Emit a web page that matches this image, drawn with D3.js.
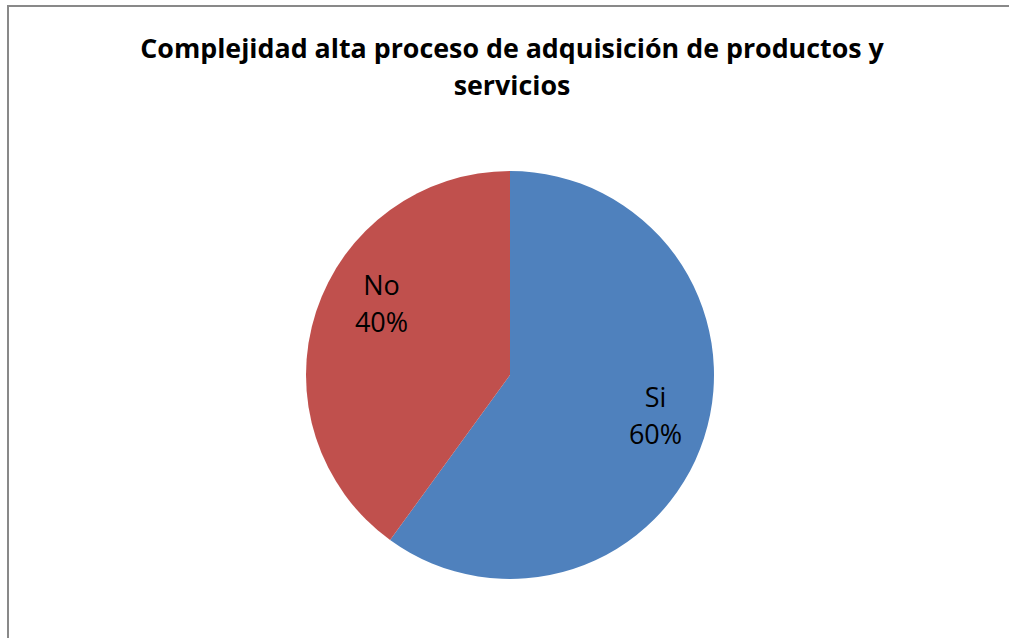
<!DOCTYPE html>
<html>
<head>
<meta charset="utf-8">
<script src="https://cdn.jsdelivr.net/npm/d3@7"></script>
<style>
	body { margin: 0; background: #fff; }
	svg { display: block; }
</style>
</head>
<body>
<div id="chart-area"></div>
<script>
// chart data
const categories = ["Si", "No"];
const values = [60, 40];
const colors = ["#4F81BD", "#C0504D"];
const titleLines = ["Complejidad alta proceso de adquisición de productos y", "servicios"];

let width = 1009,
	height = 638;

var svg = d3.select("#chart-area").append("svg")
	.attr("width", width)
	.attr("height", height);

// chart frame (runs off the right / bottom edge)
svg.append("rect")
	.attr("x", 8)
	.attr("y", 6)
	.attr("width", width + 20)
	.attr("height", height + 20)
	.attr("fill", "none")
	.attr("stroke", "#898989")
	.attr("stroke-width", 2);

// title
svg.append("g")
	.selectAll("text")
	.data(titleLines)
	.enter()
	.append("text")
	.attr("x", 512)
	.attr("y", (d, i) => 58 + i * 37)
	.attr("text-anchor", "middle")
	.style("font-family", "'Open Sans', sans-serif")
	.style("font-weight", "bold")
	.style("font-size", "26.8px")
	.attr("fill", "#000")
	.text(d => d);

var cx = 510, cy = 375, radius = 204;

var pie = d3.pie()
	.sort(null)
	.value(d => d);

var arc = d3.arc()
	.innerRadius(0)
	.outerRadius(radius);

var labelArc = d3.arc()
	.innerRadius(radius * 0.75)
	.outerRadius(radius * 0.75);

var total = d3.sum(values);
var arcs = pie(values);

var g = svg.append("g")
	.attr("transform", "translate(" + cx + "," + cy + ")");

g.selectAll("path")
	.data(arcs)
	.enter()
	.append("path")
	.attr("d", arc)
	.attr("fill", (d, i) => colors[i]);

var labels = g.selectAll(".label")
	.data(arcs)
	.enter()
	.append("text")
	.attr("class", "label")
	.attr("text-anchor", "middle")
	.attr("transform", (d, i) => {
		let c = labelArc.centroid(d);
		// excel nudges the smaller label a little up
		if (i == 1) { c[0] += 17; c[1] -= 18; }
		return "translate(" + c[0] + "," + c[1] + ")";
	})
	.style("font-family", "'Open Sans', sans-serif")
	.style("font-size", "27px")
	.attr("fill", "#000");

labels.append("tspan")
	.attr("x", 0)
	.attr("y", -15)
	.text((d, i) => categories[i]);

labels.append("tspan")
	.attr("x", 0)
	.attr("y", 22)
	.text(d => Math.round(d.value / total * 100) + "%");
</script>
</body>
</html>
